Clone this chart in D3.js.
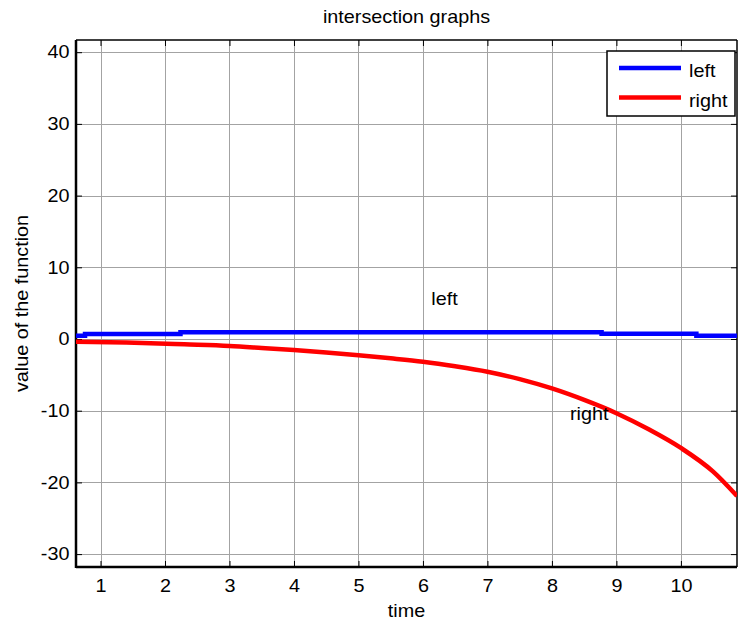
<!DOCTYPE html>
<html>
<head>
<meta charset="utf-8">
<script src="https://cdn.jsdelivr.net/npm/d3@7"></script>
<style>
  html, body { margin: 0; padding: 0; background: #fff; }
  svg { display: block; font-family: "Liberation Sans", Arial, sans-serif; }
</style>
</head>
<body>
<svg id="chart" width="738" height="623"></svg>
<script>
// Series: "left" (blue, stepped level) and "right" (red, falling curve)
const leftTime   = [0.62, 0.76, 2.24, 8.77, 10.24, 10.88];
const leftValue  = [0.45, 0.70, 0.93, 0.72, 0.45, 0.45];

const rightTime  = [0.62, 1.40, 2.30, 3.00, 3.50, 4.00, 4.50, 5.00, 5.50, 6.00,
                    6.50, 7.00, 7.50, 8.00, 8.50, 9.00, 9.50, 10.00, 10.50, 10.87];
const rightValue = [-0.40, -0.50, -0.75, -0.97, -1.25, -1.55, -1.90, -2.28, -2.70, -3.17,
                    -3.80, -4.56, -5.60, -6.90, -8.50, -10.35, -12.60, -15.20, -18.50, -21.90];

const xTicks = [1, 2, 3, 4, 5, 6, 7, 8, 9, 10];
const yTicks = [-30, -20, -10, 0, 10, 20, 30, 40];

const seriesNames  = ["left", "right"];
const seriesColors = ["#0000ff", "#ff0000"];

const FONT = 18;
const WIDEN = "scale(1.1,1)";   // slightly wide sans glyphs

const svg = d3.select("#chart");
const box = { left: 76, right: 737, top: 40, bottom: 567 };

const x = d3.scaleLinear().domain([0.62, 10.87]).range([box.left, box.right]);
const y = d3.scaleLinear().domain([-31.8, 41.7]).range([box.bottom, box.top]);

// grid
const grid = svg.append("g").attr("stroke", "#a3a3a3").attr("stroke-width", 1);
xTicks.forEach(t => grid.append("line")
  .attr("x1", Math.round(x(t)) + 0.5).attr("x2", Math.round(x(t)) + 0.5)
  .attr("y1", box.top).attr("y2", box.bottom));
yTicks.forEach(t => grid.append("line")
  .attr("x1", box.left).attr("x2", box.right)
  .attr("y1", Math.round(y(t)) + 0.5).attr("y2", Math.round(y(t)) + 0.5));

// axes with inward ticks
const plain = d => String(d);
const xAxisB = d3.axisBottom(x).tickValues(xTicks).tickSize(-6).tickPadding(12).tickFormat(plain);
const xAxisT = d3.axisTop(x).tickValues(xTicks).tickSize(-6).tickFormat("");
const yAxisL = d3.axisLeft(y).tickValues(yTicks).tickSize(-6).tickPadding(6).tickFormat(plain);
const yAxisR = d3.axisRight(y).tickValues(yTicks).tickSize(-6).tickFormat("");

function styleAxis(g) {
  g.select(".domain").remove();
  g.selectAll(".tick line").attr("stroke", "#000").attr("stroke-width", 1);
  g.selectAll(".tick text").attr("fill", "#000").attr("font-size", FONT)
    .attr("font-family", "Liberation Sans, Arial, sans-serif")
    .attr("transform", WIDEN);
}
svg.append("g").attr("transform", `translate(0,${box.bottom})`).call(xAxisB).call(styleAxis);
svg.append("g").attr("transform", `translate(0,${box.top})`).call(xAxisT).call(styleAxis);
svg.append("g").attr("transform", `translate(${box.left},0)`).call(yAxisL).call(styleAxis);
svg.append("g").attr("transform", `translate(${box.right},0)`).call(yAxisR).call(styleAxis);

// axes box
svg.append("line").attr("x1", box.left).attr("x2", box.right).attr("y1", box.top).attr("y2", box.top)
  .attr("stroke", "#000").attr("stroke-width", 1.5);
svg.append("line").attr("x1", box.right).attr("x2", box.right).attr("y1", box.top).attr("y2", box.bottom)
  .attr("stroke", "#000").attr("stroke-width", 1.5);
svg.append("line").attr("x1", box.left).attr("x2", box.right).attr("y1", box.bottom).attr("y2", box.bottom)
  .attr("stroke", "#000").attr("stroke-width", 2.5);
svg.append("line").attr("x1", box.left).attr("x2", box.left).attr("y1", box.top).attr("y2", box.bottom + 1)
  .attr("stroke", "#000").attr("stroke-width", 2.5);

// lines
const plot = svg.append("g");
plot.append("defs").append("clipPath").attr("id", "clip")
  .append("rect").attr("x", box.left).attr("y", box.top)
  .attr("width", box.right - box.left).attr("height", box.bottom - box.top);

const leftData  = leftTime.map((t, i) => [t, leftValue[i]]);
const rightData = rightTime.map((t, i) => [t, rightValue[i]]);

const stepLine  = d3.line().x(d => x(d[0])).y(d => y(d[1])).curve(d3.curveStepAfter);
const curveLine = d3.line().x(d => x(d[0])).y(d => y(d[1])).curve(d3.curveMonotoneX);

plot.append("path").datum(leftData).attr("d", stepLine).attr("clip-path", "url(#clip)")
  .attr("fill", "none").attr("stroke", seriesColors[0]).attr("stroke-width", 4.5);
plot.append("path").datum(rightData).attr("d", curveLine).attr("clip-path", "url(#clip)")
  .attr("fill", "none").attr("stroke", seriesColors[1]).attr("stroke-width", 4.5);

// helper: horizontally widened text anchored at (px, py)
function label(px, py, str, anchor, rot) {
  const g = svg.append("g").attr("transform",
    `translate(${px},${py})` + (rot ? ` rotate(${rot})` : "") + " " + WIDEN);
  g.append("text").attr("text-anchor", anchor || "start").attr("font-size", FONT).text(str);
  return g;
}

// text annotations inside the axes
label(x(6.13), 305, "left");
label(x(8.28), 420, "right");

// title and axis labels
label((box.left + box.right) / 2, 23, "intersection graphs", "middle");
label((box.left + box.right) / 2, 617, "time", "middle");
label(28, (box.top + box.bottom) / 2, "value of the function", "middle", -90);

// legend
const lg = svg.append("g");
lg.append("rect").attr("x", 607).attr("y", 51).attr("width", 128).attr("height", 65)
  .attr("fill", "#fff").attr("stroke", "#000").attr("stroke-width", 1.5);
seriesNames.forEach((name, i) => {
  const yy = 68 + i * 29.5;
  lg.append("line").attr("x1", 619).attr("x2", 681).attr("y1", yy).attr("y2", yy)
    .attr("stroke", seriesColors[i]).attr("stroke-width", 4.5);
  label(689, yy + 9, name);
});
</script>
</body>
</html>
